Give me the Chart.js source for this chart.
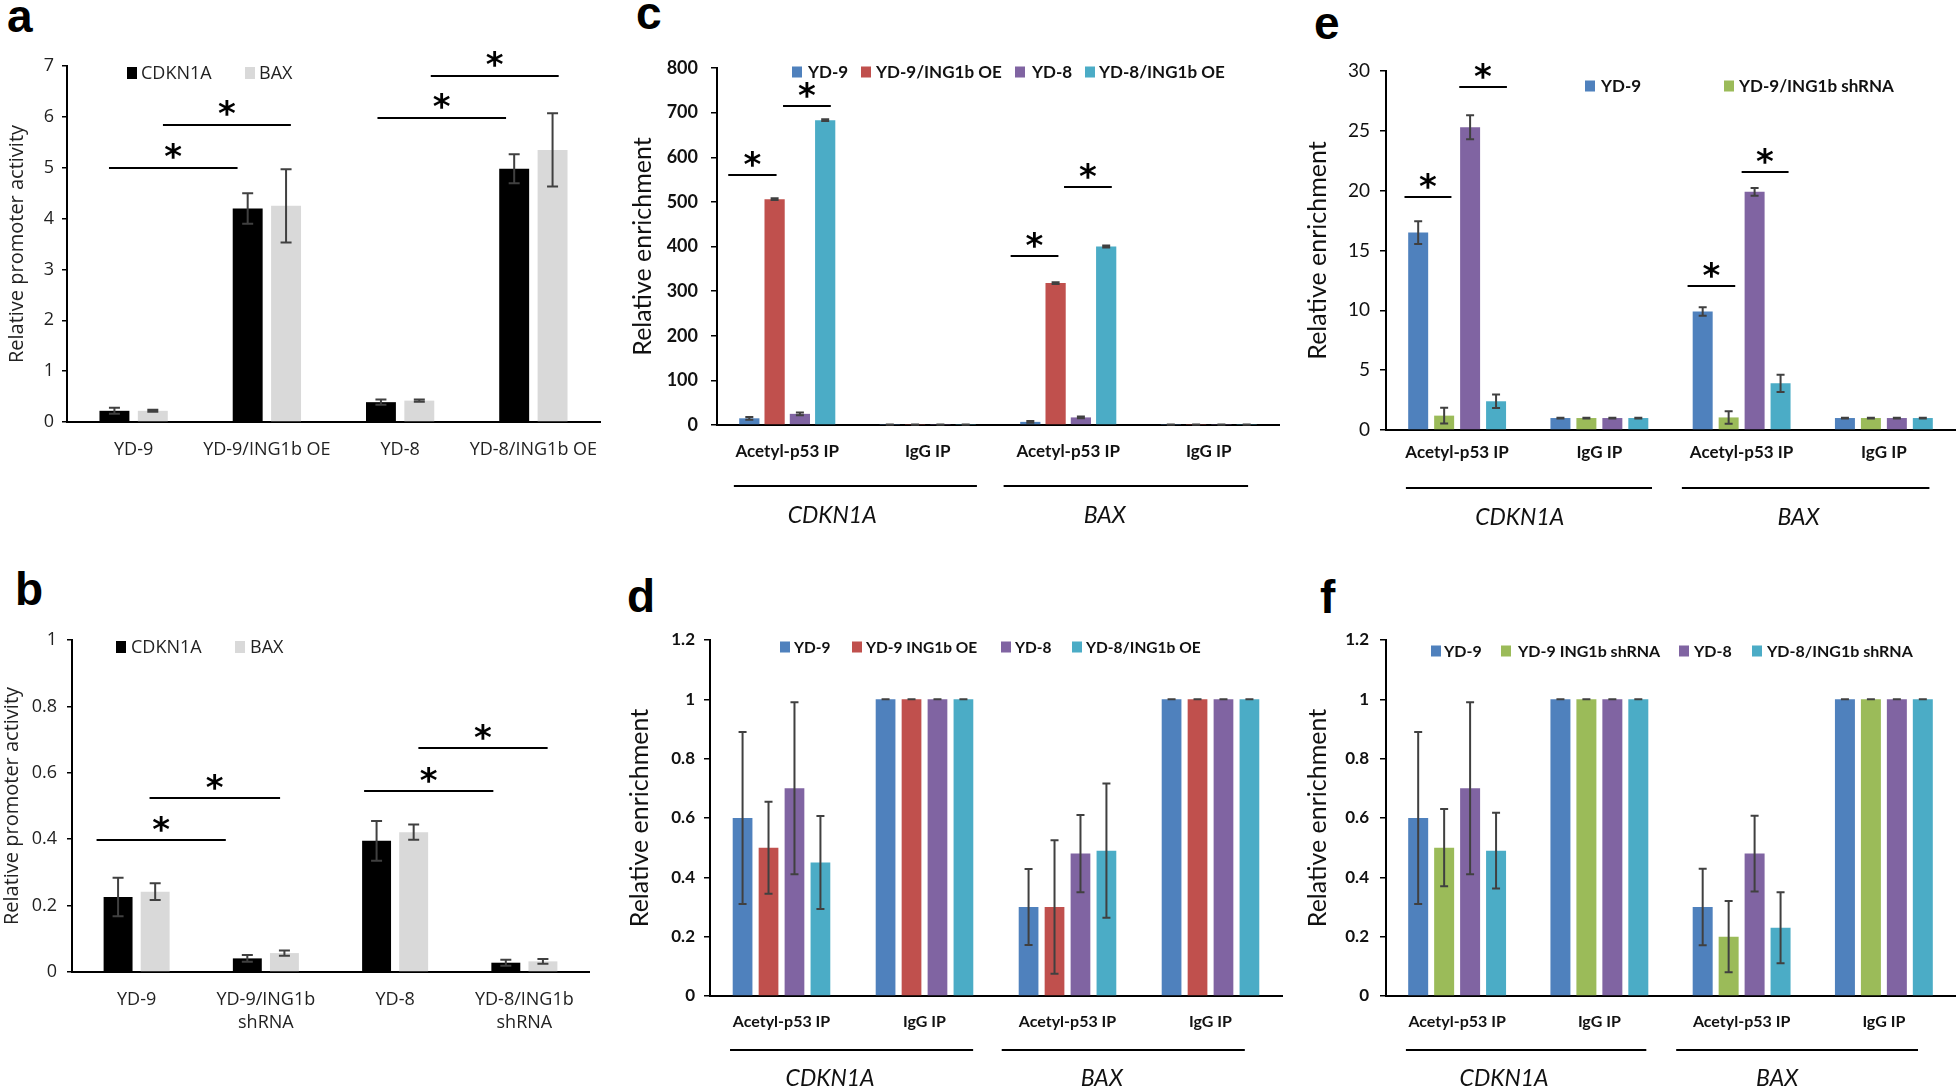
<!DOCTYPE html>
<html>
<head>
<meta charset="utf-8">
<script src="https://cdn.jsdelivr.net/npm/chart.js@4.4.1/dist/chart.umd.min.js"></script>
<style>
  body { margin: 0; background: #fff; width: 1959px; height: 1090px; position: relative; overflow: hidden; }
  canvas { position: absolute; }
  .tag { position: absolute; font: bold 46px "Liberation Sans", Arial, sans-serif; line-height: 46px; color: #000; }
</style>
</head>
<body>
<div class="tag" style="left:7px;top:-7px">a</div>
<div class="tag" style="left:15px;top:566px">b</div>
<div class="tag" style="left:636px;top:-10px">c</div>
<div class="tag" style="left:627px;top:573px">d</div>
<div class="tag" style="left:1314px;top:0px">e</div>
<div class="tag" style="left:1320px;top:574px">f</div>

<canvas id="chartA"></canvas>
<canvas id="chartB"></canvas>
<canvas id="chartC"></canvas>
<canvas id="chartD"></canvas>
<canvas id="chartE"></canvas>
<canvas id="chartF"></canvas>

<script>
// ---- categories and tick labels ----
const catA = ["YD-9", "YD-9/ING1b OE", "YD-8", "YD-8/ING1b OE"];
const catB = ["YD-9", ["YD-9/ING1b", "shRNA"], "YD-8", ["YD-8/ING1b", "shRNA"]];
const catIP = ["Acetyl-p53 IP", "IgG IP", "Acetyl-p53 IP", "IgG IP"];
const genes = ["CDKN1A", "BAX"];

const ticksA = [0, 1, 2, 3, 4, 5, 6, 7];
const ticksB = [0, 0.2, 0.4, 0.6, 0.8, 1];
const ticksC = [0, 100, 200, 300, 400, 500, 600, 700, 800];
const ticksE = [0, 5, 10, 15, 20, 25, 30];
const ticksDF = [0, 0.2, 0.4, 0.6, 0.8, 1, 1.2];

// ---- panel a: promoter activity, overexpression ----
const aCdkn1a = [0.22, 4.2, 0.39, 4.98];
const aCdkn1aErr = [0.06, 0.3, 0.05, 0.285];
const aBax = [0.22, 4.25, 0.42, 5.35];
const aBaxErr = [0.02, 0.72, 0.02, 0.72];
// [from, to, level] in category units / y units
const aStars = [[-0.185, 0.78, 5.0], [0.22, 1.18, 5.84], [1.83, 2.795, 5.98], [2.23, 3.19, 6.8]];

// ---- panel b: promoter activity, shRNA ----
const bCdkn1a = [0.226, 0.041, 0.395, 0.028];
const bCdkn1aErr = [0.058, 0.01, 0.06, 0.009];
const bBax = [0.242, 0.057, 0.421, 0.032];
const bBaxErr = [0.025, 0.008, 0.023, 0.007];
const bStars = [[-0.31, 0.69, 0.397], [0.1, 1.11, 0.523], [1.76, 2.76, 0.546], [2.18, 3.18, 0.674]];

// ---- panel c: acetyl-p53 ChIP, overexpression ----
const cYd9 = [15, 1, 7, 1];
const cYd9Err = [3, 0.3, 2, 0.3];
const cYd9Oe = [506, 1, 318, 1];
const cYd9OeErr = [2, 0.3, 2, 0.3];
const cYd8 = [25, 1, 17, 1];
const cYd8Err = [3, 0.3, 2, 0.3];
const cYd8Oe = [683, 1, 400, 1];
const cYd8OeErr = [2, 0.3, 2, 0.3];
const cStars = [[-0.42, -0.076, 560], [-0.03, 0.31, 714], [1.59, 1.93, 379], [1.97, 2.31, 534]];

// ---- panel d: IgG-normalised, overexpression ----
const dYd9 = [0.6, 1, 0.3, 1];
const dYd9Err = [0.29, 0, 0.128, 0];
const dYd9Oe = [0.5, 1, 0.3, 1];
const dYd9OeErr = [0.155, 0, 0.225, 0];
const dYd8 = [0.7, 1, 0.48, 1];
const dYd8Err = [0.29, 0, 0.13, 0];
const dYd8Oe = [0.45, 1, 0.49, 1];
const dYd8OeErr = [0.157, 0, 0.226, 0];

// ---- panel e: acetyl-p53 ChIP, shRNA ----
const eYd9 = [16.5, 1, 9.9, 1];
const eYd9Err = [0.95, 0.03, 0.35, 0.03];
const eYd9Sh = [1.2, 1, 1.05, 1];
const eYd9ShErr = [0.66, 0.03, 0.52, 0.03];
const eYd8 = [25.3, 1, 19.9, 1];
const eYd8Err = [1.0, 0.03, 0.32, 0.03];
const eYd8Sh = [2.4, 1, 3.9, 1];
const eYd8ShErr = [0.57, 0.03, 0.72, 0.03];
const eStars = [[-0.37, -0.04, 19.5], [0.015, 0.35, 28.7], [1.62, 1.955, 12.05], [2.0, 2.33, 21.56]];

// ---- panel f: IgG-normalised, shRNA ----
const fYd9 = [0.6, 1, 0.3, 1];
const fYd9Err = [0.29, 0, 0.129, 0];
const fYd9Sh = [0.5, 1, 0.2, 1];
const fYd9ShErr = [0.13, 0, 0.12, 0];
const fYd8 = [0.7, 1, 0.48, 1];
const fYd8Err = [0.29, 0, 0.128, 0];
const fYd8Sh = [0.49, 1, 0.23, 1];
const fYd8ShErr = [0.128, 0, 0.12, 0];

const BLACK = "#000000", GREY = "#d9d9d9";
const BLUE = "#4f81bd", RED = "#c0504d", PURPLE = "#8064a2", TEAL = "#4bacc6", GREEN = "#9bbb59";

function drawStar(ctx, x, y, font) {
  ctx.font = font;
  ctx.textAlign = "center";
  ctx.textBaseline = "alphabetic";
  const m = ctx.measureText("*");
  const dy = (m.actualBoundingBoxAscent - m.actualBoundingBoxDescent) / 2;
  const dx = (m.actualBoundingBoxLeft - m.actualBoundingBoxRight) / 2;
  ctx.fillText("*", x + dx, y + dy);
}

function drawExtras(chart, o) {
  const ctx = chart.ctx;
  const xs = chart.scales.x, ys = chart.scales.y;
  const [cx, cy] = o.box;
  const x0 = xs.getPixelForValue(0);
  const cw = xs.getPixelForValue(1) - x0;
  const px = v => x0 + v * cw;
  ctx.save();

  // error bars
  ctx.strokeStyle = "#404040";
  ctx.lineWidth = 2;
  chart.data.datasets.forEach((ds, di) => {
    chart.getDatasetMeta(di).data.forEach((bar, j) => {
      const v = ds.data[j], e = ds.err[j];
      const yt = ys.getPixelForValue(v + e), yb = ys.getPixelForValue(v - e);
      ctx.beginPath();
      ctx.moveTo(bar.x, yt); ctx.lineTo(bar.x, yb);
      ctx.moveTo(bar.x - o.cap, yt); ctx.lineTo(bar.x + o.cap, yt);
      ctx.moveTo(bar.x - o.cap, yb); ctx.lineTo(bar.x + o.cap, yb);
      ctx.stroke();
    });
  });

  // significance lines with asterisks
  ctx.strokeStyle = "#000";
  ctx.fillStyle = "#000";
  (o.stars || []).forEach(([a, b, v]) => {
    const y = Math.round(ys.getPixelForValue(v));
    ctx.beginPath();
    ctx.moveTo(px(a), y); ctx.lineTo(px(b), y);
    ctx.stroke();
    drawStar(ctx, (px(a) + px(b)) / 2, y - o.starGap, o.starFont);
  });

  // legend drawn inside the plot
  const lg = o.legend;
  ctx.font = lg.font;
  ctx.textAlign = "left";
  ctx.textBaseline = "middle";
  lg.items.forEach(it => {
    ctx.fillStyle = chart.data.datasets[it.series].backgroundColor;
    ctx.fillRect(it.box - cx, lg.y - cy - lg.bh / 2, lg.bw, lg.bh);
    ctx.fillStyle = o.textColor;
    ctx.fillText(chart.data.datasets[it.series].label, it.text - cx, lg.y - cy + 1);
  });

  // gene group underlines and names
  if (o.groups) {
    ctx.strokeStyle = "#000";
    ctx.lineWidth = 2;
    ctx.fillStyle = o.textColor;
    ctx.font = o.groupFont;
    ctx.textAlign = "center";
    o.groups.forEach((g, i) => {
      const y = o.groupLineY - cy;
      ctx.beginPath();
      ctx.moveTo(px(g[0]), y); ctx.lineTo(px(g[1]), y);
      ctx.stroke();
      ctx.fillText(genes[i], px(g[2]), o.groupTextY - cy);
    });
  }
  ctx.restore();
}

function panel(id, o) {
  const [cx, cy, cw, ch] = o.box;
  const [L, T, R, B] = o.area;
  const canvas = document.getElementById(id);
  canvas.width = cw;
  canvas.height = ch;
  canvas.style.left = cx + "px";
  canvas.style.top = cy + "px";
  const xLh = o.xFont.size * (o.xFont.lineHeight || 1.2);
  const tLh = o.titleFont.size * 1.2;

  return new Chart(canvas, {
    type: "bar",
    data: {
      labels: o.labels,
      datasets: o.series.map(s => ({
        label: s.label,
        data: s.data,
        err: s.err,
        backgroundColor: s.color,
        borderWidth: 0,
        categoryPercentage: o.catPct,
        barPercentage: o.barPct
      }))
    },
    options: {
      responsive: false,
      animation: false,
      events: [],
      layout: { padding: { left: 0, top: T - cy, right: cx + cw - R, bottom: 0 } },
      plugins: { legend: { display: false }, tooltip: { enabled: false } },
      scales: {
        x: {
          afterFit: s => { s.height = cy + ch - B; },
          border: { display: true, color: "#000", width: 2 },
          grid: { display: false, drawTicks: false },
          ticks: {
            color: o.textColor, font: o.xFont, autoSkip: false, maxRotation: 0,
            padding: o.xLabelY - B - xLh / 2
          }
        },
        y: {
          min: 0,
          max: o.ticks[o.ticks.length - 1],
          afterFit: s => { s.width = L - cx; },
          afterBuildTicks: s => { s.ticks = o.ticks.map(v => ({ value: v })); },
          border: { display: true, color: "#000", width: 2 },
          grid: { display: true, drawOnChartArea: false, drawTicks: true, tickLength: o.tickLen, color: "#000", lineWidth: 1.5 },
          ticks: {
            color: o.textColor, font: o.yFont,
            padding: L - o.tickLen - o.tickRight,
            callback: v => String(+Number(v).toFixed(2))
          },
          title: {
            display: true, text: o.title, color: o.textColor, font: o.titleFont,
            padding: { top: o.titleX - cx - tLh / 2, bottom: 0 }
          }
        }
      }
    },
    plugins: [{ id: "extras" + id, afterDatasetsDraw: chart => drawExtras(chart, o) }]
  });
}

const openSans = "'Open Sans', 'Noto Sans', sans-serif";
const lato = "Lato, 'Open Sans', sans-serif";

panel("chartA", {
  box: [0, 0, 640, 480], area: [67, 66, 600, 422],
  labels: catA, ticks: ticksA,
  series: [
    { label: "CDKN1A", data: aCdkn1a, err: aCdkn1aErr, color: BLACK },
    { label: "BAX", data: aBax, err: aBaxErr, color: GREY }
  ],
  catPct: 0.576, barPct: 0.78, cap: 5.5,
  textColor: "#222",
  xFont: { family: openSans, size: 18 }, xLabelY: 450,
  yFont: { family: openSans, size: 18 }, tickLen: 5, tickRight: 54,
  title: "Relative promoter activity", titleFont: { family: openSans, size: 20 }, titleX: 17,
  stars: aStars, starGap: 17, starFont: "bold 34px 'DejaVu Sans'",
  legend: { y: 73, bw: 10, bh: 12, font: "18px " + openSans,
    items: [{ series: 0, box: 127, text: 141 }, { series: 1, box: 245, text: 259 }] }
});

panel("chartB", {
  box: [0, 560, 640, 530], area: [72, 640, 589, 972],
  labels: catB, ticks: ticksB,
  series: [
    { label: "CDKN1A", data: bCdkn1a, err: bCdkn1aErr, color: BLACK },
    { label: "BAX", data: bBax, err: bBaxErr, color: GREY }
  ],
  catPct: 0.574, barPct: 0.78, cap: 5.5,
  textColor: "#222",
  xFont: { family: openSans, size: 18, lineHeight: 1.28 }, xLabelY: 1000,
  yFont: { family: openSans, size: 18 }, tickLen: 5, tickRight: 57,
  title: "Relative promoter activity", titleFont: { family: openSans, size: 20 }, titleX: 12,
  stars: bStars, starGap: 16, starFont: "bold 34px 'DejaVu Sans'",
  legend: { y: 647, bw: 10, bh: 12, font: "18px " + openSans,
    items: [{ series: 0, box: 116, text: 131 }, { series: 1, box: 235, text: 250 }] }
});

panel("chartC", {
  box: [620, 0, 680, 545], area: [717, 68, 1279, 425],
  labels: catIP, ticks: ticksC,
  series: [
    { label: "YD-9", data: cYd9, err: cYd9Err, color: BLUE },
    { label: "YD-9/ING1b OE", data: cYd9Oe, err: cYd9OeErr, color: RED },
    { label: "YD-8", data: cYd8, err: cYd8Err, color: PURPLE },
    { label: "YD-8/ING1b OE", data: cYd8Oe, err: cYd8OeErr, color: TEAL }
  ],
  catPct: 0.72, barPct: 0.8, cap: 4,
  textColor: "#111",
  xFont: { family: lato, size: 17, weight: "bold" }, xLabelY: 452,
  yFont: { family: lato, size: 18, weight: "bold" }, tickLen: 6, tickRight: 698,
  title: "Relative enrichment", titleFont: { family: lato, size: 25 }, titleX: 643,
  stars: cStars, starGap: 16, starFont: "bold 34px 'DejaVu Sans'",
  legend: { y: 72, bw: 10, bh: 11, font: "bold 17px " + lato,
    items: [{ series: 0, box: 792, text: 808 }, { series: 1, box: 861, text: 876 },
            { series: 2, box: 1015, text: 1032 }, { series: 3, box: 1085, text: 1099 }] },
  groups: [[-0.38, 1.35, 0.32], [1.54, 3.28, 2.26]], groupLineY: 486, groupTextY: 516,
  groupFont: "italic 23px " + lato
});

panel("chartD", {
  box: [620, 560, 680, 530], area: [710, 640, 1282, 996],
  labels: catIP, ticks: ticksDF,
  series: [
    { label: "YD-9", data: dYd9, err: dYd9Err, color: BLUE },
    { label: "YD-9 ING1b OE", data: dYd9Oe, err: dYd9OeErr, color: RED },
    { label: "YD-8", data: dYd8, err: dYd8Err, color: PURPLE },
    { label: "YD-8/ING1b OE", data: dYd8Oe, err: dYd8OeErr, color: TEAL }
  ],
  catPct: 0.726, barPct: 0.76, cap: 4,
  textColor: "#111",
  xFont: { family: lato, size: 16, weight: "bold" }, xLabelY: 1022,
  yFont: { family: lato, size: 17, weight: "bold" }, tickLen: 6, tickRight: 695,
  title: "Relative enrichment", titleFont: { family: lato, size: 25 }, titleX: 640,
  legend: { y: 647, bw: 10, bh: 11, font: "bold 15.5px " + lato,
    items: [{ series: 0, box: 780, text: 794 }, { series: 1, box: 852, text: 866 },
            { series: 2, box: 1001, text: 1015 }, { series: 3, box: 1072, text: 1086 }] },
  groups: [[-0.36, 1.34, 0.34], [1.54, 3.24, 2.24]], groupLineY: 1050, groupTextY: 1079,
  groupFont: "italic 23px " + lato
});

panel("chartE", {
  box: [1290, 0, 669, 545], area: [1386, 71, 1955, 430],
  labels: catIP, ticks: ticksE,
  series: [
    { label: "YD-9", data: eYd9, err: eYd9Err, color: BLUE },
    { label: "YD-9/ING1b shRNA", data: eYd9Sh, err: eYd9ShErr, color: GREEN },
    { label: "YD-8", data: eYd8, err: eYd8Err, color: PURPLE },
    { label: "YD-8/ING1b shRNA", data: eYd8Sh, err: eYd8ShErr, color: TEAL }
  ],
  catPct: 0.73, barPct: 0.77, cap: 4,
  textColor: "#111",
  xFont: { family: lato, size: 17, weight: "bold" }, xLabelY: 453,
  yFont: { family: lato, size: 19 }, tickLen: 6, tickRight: 1370,
  title: "Relative enrichment", titleFont: { family: lato, size: 25 }, titleX: 1318,
  stars: eStars, starGap: 16, starFont: "bold 34px 'DejaVu Sans'",
  legend: { y: 86, bw: 10, bh: 11, font: "bold 17px " + lato,
    items: [{ series: 0, box: 1585, text: 1601 }, { series: 1, box: 1724, text: 1739 }] },
  groups: [[-0.36, 1.37, 0.44], [1.58, 3.32, 2.4]], groupLineY: 488, groupTextY: 518,
  groupFont: "italic 23px " + lato
});

panel("chartF", {
  box: [1290, 560, 669, 530], area: [1386, 640, 1955, 996],
  labels: catIP, ticks: ticksDF,
  series: [
    { label: "YD-9", data: fYd9, err: fYd9Err, color: BLUE },
    { label: "YD-9 ING1b shRNA", data: fYd9Sh, err: fYd9ShErr, color: GREEN },
    { label: "YD-8", data: fYd8, err: fYd8Err, color: PURPLE },
    { label: "YD-8/ING1b shRNA", data: fYd8Sh, err: fYd8ShErr, color: TEAL }
  ],
  catPct: 0.73, barPct: 0.77, cap: 4,
  textColor: "#111",
  xFont: { family: lato, size: 16, weight: "bold" }, xLabelY: 1022,
  yFont: { family: lato, size: 17, weight: "bold" }, tickLen: 6, tickRight: 1369,
  title: "Relative enrichment", titleFont: { family: lato, size: 25 }, titleX: 1318,
  legend: { y: 651, bw: 10, bh: 11, font: "bold 16px " + lato,
    items: [{ series: 0, box: 1431, text: 1444 }, { series: 1, box: 1501, text: 1518 },
            { series: 2, box: 1679, text: 1694 }, { series: 3, box: 1752, text: 1767 }] },
  groups: [[-0.36, 1.33, 0.33], [1.54, 3.24, 2.25]], groupLineY: 1050, groupTextY: 1079,
  groupFont: "italic 23px " + lato
});
</script>
</body>
</html>
